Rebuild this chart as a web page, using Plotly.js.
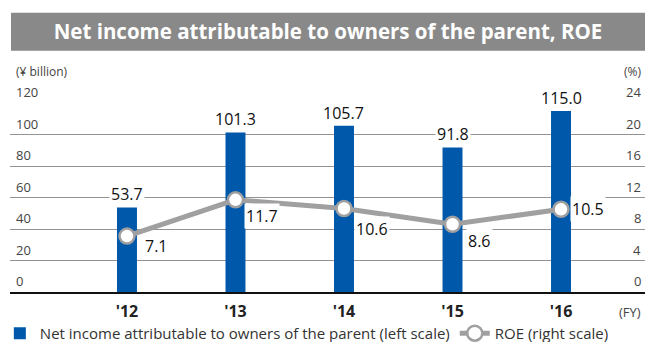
<!DOCTYPE html>
<html>
<head>
<meta charset="utf-8">
<script src="https://cdn.plot.ly/plotly-3.0.1.min.js"></script>
<style>html,body{margin:0;padding:0;background:#fff;}#chart{width:645px;height:342px;}</style>
</head>
<body>
<div id="chart"></div>
<script>
// ---- data ----
const years = ["'12", "'13", "'14", "'15", "'16"];
const netIncome = [53.7, 101.3, 105.7, 91.8, 115.0];
const roe = [7.1, 11.7, 10.6, 8.6, 10.5];
const netIncomeLabels = ["53.7", "101.3", "105.7", "91.8", "115.0"];
const roeLabels = ["7.1", "11.7", "10.6", "8.6", "10.5"];
const leftTicks = [0, 20, 40, 60, 80, 100, 120];
const rightTicks = [0, 4, 8, 12, 16, 20, 24];

// ---- styling / layout helpers (not data) ----
const roeLabelShift = [[16, -10], [9, -16], [10, -20], [13, -17], [9, 0]];
const X_RANGE = [-1.078, 4.774];
const FONT = "Open Sans";
const BLUE = "#0058aa";
const GREY = "#a0a0a0";

const traces = [
  {
    type: "bar",
    x: years,
    y: netIncome,
    width: 0.184,
    marker: {color: BLUE},
    name: "Net income attributable to owners of the parent (left scale)",
    hoverinfo: "skip"
  },
  {
    type: "scatter",
    mode: "lines+markers",
    x: years,
    y: roe,
    yaxis: "y2",
    line: {color: GREY, width: 5},
    marker: {symbol: "circle", size: 15, color: "#ffffff", line: {color: GREY, width: 2.5}},
    name: "ROE (right scale)",
    hoverinfo: "skip"
  }
];

const annotations = [];
years.forEach((yr, i) => {
  annotations.push({
    x: yr, y: netIncome[i], xref: "x", yref: "y",
    text: netIncomeLabels[i], showarrow: false,
    xanchor: "center", yanchor: "bottom", yshift: 0,
    bgcolor: "#ffffff", borderpad: 1,
    font: {family: FONT, size: 16, color: "#111"}
  });
  annotations.push({
    x: yr, y: roe[i], xref: "x", yref: "y2",
    text: roeLabels[i], showarrow: false,
    xanchor: "left", yanchor: "middle",
    xshift: roeLabelShift[i][0], yshift: roeLabelShift[i][1],
    bgcolor: "#ffffff", borderpad: 1,
    font: {family: FONT, size: 16, color: "#111"}
  });
});
leftTicks.forEach(v => annotations.push({
  xref: "paper", yref: "y", x: 0.006, y: v, xanchor: "left", yanchor: "bottom",
  text: String(v), showarrow: false, font: {family: FONT, size: 13, color: "#444"}
}));
rightTicks.forEach(v => annotations.push({
  xref: "paper", yref: "y2", x: 1, xshift: -2, y: v, xanchor: "right", yanchor: "bottom",
  text: String(v), showarrow: false, font: {family: FONT, size: 13, color: "#444"}
}));
annotations.push(
  {xref: "paper", yref: "paper", x: 0.006, y: 1.169, xanchor: "left", yanchor: "middle",
   text: "(¥ billion)", showarrow: false, font: {family: FONT, size: 12, color: "#444"}},
  {xref: "paper", yref: "paper", x: 1, xshift: -2, y: 1.169, xanchor: "right", yanchor: "middle",
   text: "(%)", showarrow: false, font: {family: FONT, size: 12, color: "#444"}},
  {xref: "paper", yref: "paper", x: 1, xshift: -2, y: -0.106, xanchor: "right", yanchor: "middle",
   text: "(FY)", showarrow: false, font: {family: FONT, size: 13, color: "#444"}}
);

const layout = {
  width: 645, height: 342,
  margin: {l: 10, r: 0, t: 103, b: 50, pad: 0, autoexpand: false},
  paper_bgcolor: "#ffffff", plot_bgcolor: "#ffffff",
  showlegend: true,
  title: {
    text: "Net income attributable to owners of the parent, ROE",
    font: {family: FONT, size: 20.5, color: "#ffffff", weight: "bold"},
    xref: "container", yref: "container", x: 0.5085, xanchor: "center", y: 0.906, yanchor: "middle"
  },
  shapes: [
    {type: "rect", xref: "paper", yref: "paper", x0: 0.0016, x1: 1, y0: 1.277, y1: 1.478,
     fillcolor: "#898989", line: {width: 0}, layer: "above"}
  ],
  xaxis: {
    type: "category", range: X_RANGE, fixedrange: true,
    showgrid: false, zeroline: false, showline: true, linecolor: "#111", linewidth: 2,
    ticks: "", ticklabelstandoff: 4,
    tickfont: {family: FONT, size: 16, color: "#222", weight: "bold"}
  },
  yaxis: {
    range: [0, 120], tickvals: leftTicks, fixedrange: true,
    showgrid: true, gridcolor: "#939393", gridwidth: 1, zeroline: false, showline: false,
    ticks: "", showticklabels: false
  },
  yaxis2: {
    range: [0, 24], tickvals: rightTicks, overlaying: "y", side: "right", fixedrange: true,
    showgrid: false, zeroline: false, showline: false,
    ticks: "", showticklabels: false
  },
  legend: {
    orientation: "h", x: -0.016, xanchor: "left", y: -0.132, yanchor: "top",
    font: {family: FONT, size: 15, color: "#333"}, bgcolor: "rgba(0,0,0,0)",
    traceorder: "normal"
  },
  annotations: annotations
};

Plotly.newPlot("chart", traces, layout, {displayModeBar: false, staticPlot: true});
</script>
</body>
</html>
